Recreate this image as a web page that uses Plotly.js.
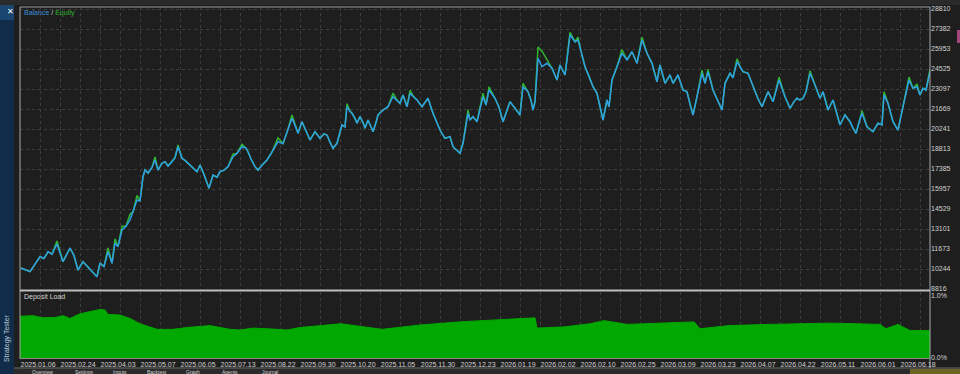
<!DOCTYPE html>
<html><head><meta charset="utf-8">
<script src="https://cdn.plot.ly/plotly-3.0.1.min.js"></script>
<style>html,body{margin:0;padding:0;background:#1e1e1e;overflow:hidden}#chart{width:960px;height:374px}</style>
</head><body><div id="chart"></div>
<script>
// trade number along the horizontal axis
const trades = [1,5,10,15,20,24,28,32,37,43,50,54,58,63,68,72,77,80,84,88,92,95,98,102,106,110,113,117,120,123,125,128,132,135,138,142,145,148,152,155,158,162,165,168,172,177,180,184,189,193,197,200,204,208,213,217,222,226,228,231,235,238,242,247,252,258,263,267,272,275,278,282,286,290,295,300,304,307,310,313,317,320,322,325,327,330,332,335,337,340,343,345,348,351,353,356,358,363,368,373,377,380,383,387,390,394,397,402,408,413,417,420,425,430,433,437,440,443,448,450,453,457,463,466,469,475,479,483,487,490,495,500,503,508,511,513,515,518,522,527,532,537,540,545,547,550,555,558,561,565,569,573,577,580,583,587,589,592,597,602,607,612,617,622,627,632,637,640,645,650,653,658,663,667,670,673,677,682,685,688,693,698,702,705,710,713,717,720,723,728,732,735,738,742,748,753,759,765,770,774,777,780,783,786,790,795,800,803,808,813,817,820,825,830,833,836,839,842,847,853,858,862,864,868,873,878,883,886,889,893,897,900,903,906,910];
const balance = [10317,10200,10054,10600,11124,11000,11480,11300,12031,10768,11745,11200,10175,10768,10410,10100,9696,10675,10410,11480,10653,12103,11840,13030,13300,13744,14300,15173,15100,16836,17315,17100,17500,18029,17315,17800,17910,17600,17910,18200,18978,18150,18000,17815,17500,17194,17672,17000,16010,16958,16800,17194,17300,17553,18264,18500,18978,18878,18621,18100,17553,17315,17650,18029,18600,19335,19200,20000,21006,20500,19935,20763,20100,19457,20049,19578,19900,19814,19300,18864,19221,20000,20528,20400,21834,21500,21363,21000,20649,21124,20700,20292,20885,20400,20049,20700,21242,21599,21834,22548,22300,22077,22670,21834,22786,22500,22313,21834,22434,21363,20700,20169,19578,19700,18978,18700,18507,19221,21363,20900,21124,20763,22548,21955,23027,22434,21800,20763,21599,22191,21720,21242,23262,22905,22300,21599,22200,25290,24690,24932,24576,23741,24812,24098,25169,26954,26475,26596,25800,24690,24000,23262,22786,21800,20885,22313,21834,23741,24690,25647,25169,25763,24932,26596,25647,24932,23620,24812,23505,24098,23505,24098,23027,22905,22000,21242,22548,24218,23500,24335,23027,22300,21599,23505,24218,23900,25047,24700,24335,24218,23500,23027,22400,21834,22905,22191,23741,22548,21720,22200,22434,22300,22434,22905,24218,23384,22434,22905,21599,22313,21300,20528,21242,20763,20300,19935,20700,21363,20406,20049,20649,20528,22670,22077,20763,20169,21834,22800,23741,23148,23262,22670,23148,23027,24335];
const equity = [10317,10200,10054,10600,11124,11000,11480,11300,12250,10768,11745,11200,10175,10768,10410,10100,9696,10675,10410,11750,10653,12400,11840,13300,13300,14150,14300,15500,15100,16836,17315,17100,17500,18250,17315,17800,17910,17600,17910,18200,19100,18150,18000,17815,17500,17194,17672,17000,16010,16958,16800,17194,17300,17553,18450,18500,19150,18878,18621,18100,17553,17315,17650,18029,18600,19600,19200,20000,21250,20500,19935,20763,20100,19457,20049,19578,19900,19814,19300,18864,19221,20000,20528,20400,22050,21500,21363,21000,20649,21124,20700,20292,20885,20400,20049,20700,21242,21599,21834,22800,22300,22077,22670,21834,23000,22500,22313,21834,22434,21363,20700,20169,19578,19700,18978,18700,18507,19221,21600,20900,21124,20763,22800,21955,23250,22434,21800,20763,21599,22191,21720,21242,23500,22905,22300,21599,22200,26100,25800,25200,24576,23741,24812,24098,25169,27150,26475,26800,25800,24690,24000,23262,22786,21800,20885,22313,21834,23741,24690,25900,25169,25763,24932,26800,25647,24932,23620,24812,23505,24098,23505,24098,23027,22905,22000,21242,22548,24450,23500,24500,23027,22300,21599,23505,24218,23900,25250,24700,24335,24218,23500,23027,22400,21834,22905,22191,23950,22548,21720,22200,22434,22300,22434,22905,24400,23384,22434,22905,21599,22313,21300,20528,21242,20763,20300,19935,20700,21550,20406,20049,20649,20528,22900,22077,20763,20169,21834,22800,23950,23148,23450,22670,23148,23027,24500];
// deposit load (share of deposit, 1 = 1.0%)
const loadTrades = [0,1,13,23,35,43,50,60,70,80,85,88,100,110,120,137,153,167,190,210,220,233,247,267,280,300,321,362,400,439,480,515,517,545,570,584,607,640,674,680,709,749,790,811,860,866,878,890,910];
const loadValues = [0.67,0.67,0.68,0.645,0.65,0.68,0.635,0.71,0.75,0.78,0.77,0.70,0.69,0.635,0.55,0.46,0.46,0.49,0.52,0.46,0.45,0.48,0.47,0.45,0.49,0.52,0.55,0.46,0.53,0.58,0.61,0.645,0.48,0.50,0.55,0.60,0.54,0.56,0.58,0.47,0.52,0.54,0.55,0.56,0.54,0.47,0.54,0.44,0.44];
// date labels and the trade number where each one sits
const dateTickTrades = [0,40,80,120,160,200,240,280,320,360,400,440,480,520,560,600,640,680,720,760,800,840,880];
const dateLabels = ['2025.01.06','2025.02.24','2025.04.03','2025.05.07','2025.06.05','2025.07.13','2025.08.22','2025.09.30','2025.10.20','2025.11.05','2025.11.30','2025.12.23','2026.01.19','2026.02.02','2026.02.10','2026.02.25','2026.03.09','2026.03.23','2026.04.07','2026.04.22','2026.05.11','2026.06.01','2026.06.18'];
const moneyTicks = [28810,27382,25953,24525,23097,21669,20241,18813,17385,15957,14529,13101,11673,10244,8816];
const loadTicks = [0,1];
const loadTickLabels = ['0.0%','1.0%'];
const tabNames = ['Overview','Settings','Inputs','Backtest','Graph','Agents','Journal'];

const W=960,H=374,ML=20,MR=30,MT=7,MB=16;
const PW=W-ML-MR, PH=H-MT-MB;
const px=x=>(x-ML)/PW, py=y=>(H-MB-y)/PH;
const tabCenters=[42,84,120,157,193,230,270];

const grid='#3e3e3e';
const traces = [
 {x:trades,y:equity,type:'scatter',mode:'lines',line:{color:'#2fb52f',width:1.5},xaxis:'x',yaxis:'y',hoverinfo:'skip'},
 {x:trades,y:balance,type:'scatter',mode:'lines',line:{color:'#2f9fe6',width:1.5},xaxis:'x',yaxis:'y',hoverinfo:'skip'},
 {x:loadTrades,y:loadValues,type:'scatter',mode:'lines',fill:'tozeroy',fillcolor:'#00a800',line:{color:'#00a800',width:1},xaxis:'x',yaxis:'y2',hoverinfo:'skip'}
];
const F='Liberation Sans, Arial, sans-serif';
const layout = {
 width:W,height:H,margin:{l:ML,r:MR,t:MT,b:MB,pad:0},
 paper_bgcolor:'#1e1e1e',plot_bgcolor:'#1e1e1e',showlegend:false,
 font:{family:F,size:7,color:'#d2d2d2'},
 xaxis:{range:[0,910],anchor:'y2',tickmode:'array',tickvals:dateTickTrades,ticktext:dateLabels,ticks:'',
   showgrid:true,gridcolor:grid,griddash:'dot',gridwidth:1,zeroline:false,showline:false,ticklabelshift:18,ticklabelstandoff:1,
   minor:{tick0:0,dtick:20,showgrid:true,gridcolor:grid,griddash:'dot',gridwidth:1},fixedrange:true},
 yaxis:{domain:[py(290),1],range:[8747,28953],side:'right',anchor:'x',tickmode:'array',tickvals:moneyTicks,ticktext:moneyTicks.map(String),
   ticks:'',showgrid:true,gridcolor:grid,griddash:'dot',zeroline:false,showline:false,fixedrange:true},
 yaxis2:{domain:[0,py(292)],range:[0,1.06],side:'right',anchor:'x',tickmode:'array',tickvals:loadTicks,ticktext:loadTickLabels,
   ticks:'',showgrid:false,zeroline:false,showline:false,fixedrange:true},
 shapes:[
  {type:'rect',xref:'paper',yref:'paper',x0:px(0),x1:px(14),y0:py(374),y1:py(0),fillcolor:'#112c48',line:{width:0},layer:'below'},
  {type:'rect',xref:'paper',yref:'paper',x0:px(0),x1:px(14),y0:py(20),y1:py(5),fillcolor:'#1b4670',line:{width:0},layer:'below'},
  {type:'rect',xref:'paper',yref:'paper',x0:px(0),x1:px(960),y0:py(5),y1:py(0),fillcolor:'#2a2a2a',line:{width:0},layer:'below'},
  {type:'rect',xref:'paper',yref:'paper',x0:px(14),x1:px(960),y0:py(374),y1:py(368),fillcolor:'#2a2a2a',line:{width:0},layer:'below'},
  {type:'rect',xref:'paper',yref:'paper',x0:px(910),x1:px(960),y0:py(374),y1:py(369),fillcolor:'#6d6424',line:{width:0}},
  {type:'rect',xref:'paper',yref:'paper',x0:px(957),x1:px(960),y0:py(43),y1:py(30),fillcolor:'#a2487e',line:{width:0}},
  {type:'line',xref:'paper',yref:'paper',x0:px(14),x1:px(960),y0:py(368),y1:py(368),line:{color:'#6a6a6a',width:1}},
  {type:'line',xref:'paper',yref:'paper',x0:px(20),x1:px(930),y0:py(7),y1:py(7),line:{color:'#9a9a9a',width:1}},
  {type:'line',xref:'paper',yref:'paper',x0:px(20),x1:px(20),y0:py(7),y1:py(359),line:{color:'#a8a8a8',width:1}},
  {type:'line',xref:'paper',yref:'paper',x0:px(930),x1:px(930),y0:py(7),y1:py(368),line:{color:'#a8a8a8',width:1}},
  {type:'line',xref:'paper',yref:'paper',x0:px(20),x1:px(930),y0:py(290.5),y1:py(290.5),line:{color:'#bdbdbd',width:2}},
  {type:'line',xref:'paper',yref:'paper',x0:px(20),x1:px(930),y0:py(358.5),y1:py(358.5),line:{color:'#8a8a8a',width:1}}
 ],
 annotations:[
  {xref:'paper',yref:'paper',x:px(22),y:py(13),xanchor:'left',yanchor:'middle',showarrow:false,
   text:'<span style="color:#3d8fd8">Balance</span> <span style="color:#cfcfcf">/</span> <span style="color:#2fb52f">Equity</span>',font:{family:F,size:7}},
  {xref:'paper',yref:'paper',x:px(22),y:py(297),xanchor:'left',yanchor:'middle',showarrow:false,text:'Deposit Load',font:{family:F,size:7,color:'#d6d6d6'}},
  {xref:'paper',yref:'paper',x:px(10),y:py(11),xanchor:'center',yanchor:'middle',showarrow:false,text:'<b>✕</b>',font:{family:'DejaVu Sans',size:8,color:'#ffffff'}},
  {xref:'paper',yref:'paper',x:px(7),y:py(338),xanchor:'center',yanchor:'middle',showarrow:false,textangle:-90,text:'Strategy Tester',font:{family:F,size:7,color:'#b9c8d8'}},
  ...tabNames.map((t,i)=>({xref:'paper',yref:'paper',x:px(tabCenters[i]),y:py(367.5),xanchor:'center',yanchor:'top',showarrow:false,borderpad:0,text:t,font:{family:F,size:5,color:'#d0d0d0'}}))
 ]
};
Plotly.newPlot('chart',traces,layout,{displayModeBar:false,staticPlot:true});
</script></body></html>
